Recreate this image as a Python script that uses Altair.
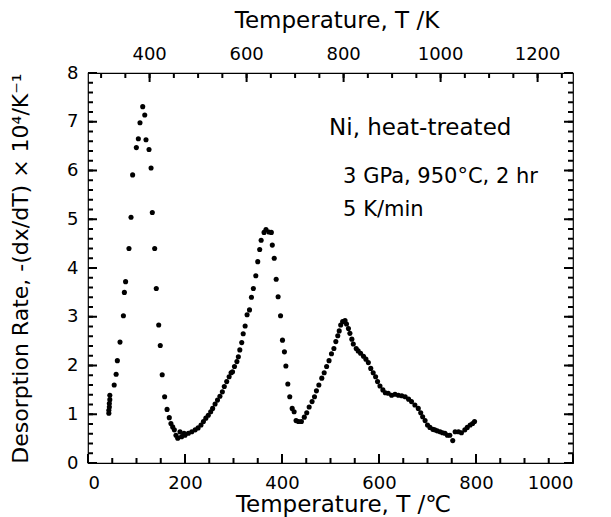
import altair as alt
import pandas as pd

# ---- data ----
temp_c = [43, 43, 44, 44, 45, 45, 54, 58, 60.5, 66, 73, 75, 77.5, 84.5, 88.7, 92, 99.7, 103.8, 107.2, 112.8,
          117, 119.6, 125.8, 130, 132.6, 137.5, 140.8, 145.8, 149, 153, 158, 163, 167.6, 171, 174.6, 178,
          181.4, 185, 189.7, 193, 198,
          200, 207, 214, 221, 227, 233, 238, 243, 248, 253, 257, 262, 267, 272, 277, 281, 286, 291, 295, 298,
          302, 307, 310, 313, 317, 320, 324, 328, 333, 337, 341, 346, 350, 354, 357, 363, 367, 373, 378, 380,
          384, 388, 392, 397, 401, 405, 408, 412, 416, 421, 425, 429, 434, 440, 446, 451, 456, 462, 467, 471,
          476, 482, 487, 492, 497, 502, 507, 511, 515, 518, 521, 525, 530, 533, 537, 540, 544, 547, 553, 557,
          562, 568, 573, 578, 583, 588, 593, 597, 602, 608, 613, 619, 626, 633, 640, 647, 654, 661,
          667, 674, 681, 686, 690, 695, 700, 705, 711, 715, 720, 726, 731, 736, 741, 746, 752, 757, 764, 770,
          777, 782, 788, 793, 797]
rate = [1.02, 1.08, 1.15, 1.22, 1.30, 1.39, 1.60, 1.82, 2.10, 2.48, 3.02, 3.50, 3.72, 4.40, 5.04, 5.91, 6.47, 6.65,
        6.98, 7.31, 7.14, 6.63, 6.43, 6.05, 5.14, 4.40, 3.58, 2.83, 2.41, 1.81, 1.36, 1.10, 0.93, 0.81, 0.74,
        0.68, 0.57, 0.51, 0.64, 0.54, 0.61,
        0.57, 0.61, 0.64, 0.68, 0.72, 0.78, 0.85, 0.92, 0.98, 1.05, 1.12, 1.21, 1.29, 1.37, 1.46, 1.57, 1.67,
        1.77, 1.85, 1.87, 1.98, 2.08, 2.18, 2.32, 2.47, 2.65, 2.81, 3.04, 3.14, 3.40, 3.58, 3.84, 4.13, 4.38,
        4.57, 4.73, 4.79, 4.74, 4.73, 4.47, 4.20, 3.77, 3.41, 3.02, 2.52, 2.28, 1.99, 1.62, 1.36, 1.12, 1.05,
        0.87, 0.85, 0.85, 0.94, 1.03, 1.15, 1.26, 1.36, 1.48, 1.60, 1.74, 1.85, 1.98, 2.10, 2.24, 2.35, 2.49,
        2.61, 2.71, 2.83, 2.90, 2.92, 2.85, 2.76, 2.66, 2.54, 2.44, 2.35, 2.30, 2.25, 2.19, 2.13, 2.06, 1.94,
        1.85, 1.77, 1.67, 1.58, 1.50, 1.44, 1.43, 1.39, 1.41, 1.39, 1.38, 1.36, 1.31,
        1.26, 1.19, 1.12, 1.03, 0.95, 0.87, 0.78, 0.73, 0.69, 0.68, 0.66, 0.64, 0.62, 0.61, 0.57, 0.57, 0.46,
        0.64, 0.64, 0.62, 0.68, 0.73, 0.78, 0.81, 0.85]

x_major = [0, 200, 400, 600, 800, 1000]
x_minor = list(range(0, 1001, 50))
k_major = [400, 600, 800, 1000, 1200]
k_minor = list(range(300, 1273, 50))
y_major = [0, 1, 2, 3, 4, 5, 6, 7, 8]
y_minor = [round(i * 0.2, 1) for i in range(41)]

notes = ["Ni, heat-treated", "3 GPa, 950°C, 2 hr", "5 K/min"]
note_x = [497, 526, 526]
note_y = [6.87, 5.86, 5.18]
note_size = [23, 21, 21]

top_title = "Temperature, T /K"
x_title = "Temperature, T /℃"
y_title = "Desorption Rate, -(dx/dT) × 10⁴/K⁻¹"

XD = [0, 1000]
YD = [0, 8]
K_OFFSET = 273
W, H = 485, 390
FONT = "DejaVu Sans"
TICK_W = 2
PX_X = (XD[1] - XD[0]) / W   # data units per pixel
PX_Y = (YD[1] - YD[0]) / H

df = pd.DataFrame({"C": temp_c, "R": rate})

XS = alt.Scale(domain=XD, nice=False, zero=False)
YS = alt.Scale(domain=YD, nice=False, zero=False)

XAXIS = alt.Axis(
    orient="bottom", values=x_major, format="d", ticks=False, domain=False, grid=False,
    labelPadding=11, labelFontSize=18, labelFont=FONT, labelColor="black",
    title=x_title, titleFontSize=23, titleFont=FONT, titleFontWeight="normal",
    titleColor="black", titlePadding=1, titleX=255)
YAXIS = alt.Axis(
    orient="left", values=y_major, ticks=False, domain=False, grid=False,
    labelPadding=10, labelFontSize=18, labelFont=FONT, labelColor="black",
    title=y_title, titleFontSize=22, titleFont=FONT,
    titleFontWeight="normal", titleColor="black", titlePadding=34)


def X(field):
    return alt.X(field, scale=XS, axis=XAXIS)


def Y(field):
    return alt.Y(field, scale=YS, axis=YAXIS)


pts = alt.Chart(df).mark_circle(size=26, color="black", opacity=1).encode(x=X("C:Q"), y=Y("R:Q"))


def xticks(values, side, length):
    if side == "bottom":
        a, b = YD[0], YD[0] + length * PX_Y
    else:
        a, b = YD[1], YD[1] - length * PX_Y
    d = pd.DataFrame({"C": values, "R": [a] * len(values), "R2": [b] * len(values)})
    return alt.Chart(d).mark_rule(color="black", strokeWidth=TICK_W, opacity=1).encode(
        x=X("C:Q"), y=Y("R:Q"), y2="R2:Q")


def yticks(values, side, length):
    if side == "left":
        a, b = XD[0], XD[0] + length * PX_X
    else:
        a, b = XD[1], XD[1] - length * PX_X
    d = pd.DataFrame({"R": values, "C": [a] * len(values), "C2": [b] * len(values)})
    return alt.Chart(d).mark_rule(color="black", strokeWidth=TICK_W, opacity=1).encode(
        y=Y("R:Q"), x=X("C:Q"), x2="C2:Q")


k_major_c = [k - K_OFFSET for k in k_major]
k_minor_c = [k - K_OFFSET for k in k_minor]

tick_layers = [
    xticks(x_major, "bottom", 9), xticks(x_minor, "bottom", 5),
    xticks(k_major_c, "top", 9), xticks(k_minor_c, "top", 5),
    yticks(y_major, "left", 9), yticks(y_minor, "left", 5),
    yticks(y_major, "right", 9), yticks(y_minor, "right", 5),
]

# top (Kelvin) axis labels, placed through the same Celsius scale
klabels = alt.Chart(pd.DataFrame({"C": k_major_c, "lab": [str(k) for k in k_major]})).mark_text(
    font=FONT, fontSize=18, color="black", baseline="middle", align="center"
).encode(x=X("C:Q"), y=alt.value(-18), text="lab:N")

ktitle = alt.Chart(pd.DataFrame({"t": [top_title]})).mark_text(
    font=FONT, fontSize=23, color="black", baseline="middle", align="center"
).encode(x=alt.value(249), y=alt.value(-52), text="t:N")

note_layers = [
    alt.Chart(pd.DataFrame({"t": [t], "C": [nx], "R": [ny]})).mark_text(
        align="left", baseline="middle", font=FONT, fontSize=s, color="black"
    ).encode(x=X("C:Q"), y=Y("R:Q"), text="t:N")
    for t, nx, ny, s in zip(notes, note_x, note_y, note_size)
]

chart = alt.layer(pts, *tick_layers, klabels, ktitle, *note_layers).properties(
    width=W, height=H,
    autosize=alt.AutoSizeParams(type="none"),
    padding={"left": 80, "top": 65, "right": 30, "bottom": 54},
    background="white",
).configure_view(stroke="black", strokeWidth=1.2)

chart.save("out.html", embed_options={"renderer": "svg", "actions": False})
